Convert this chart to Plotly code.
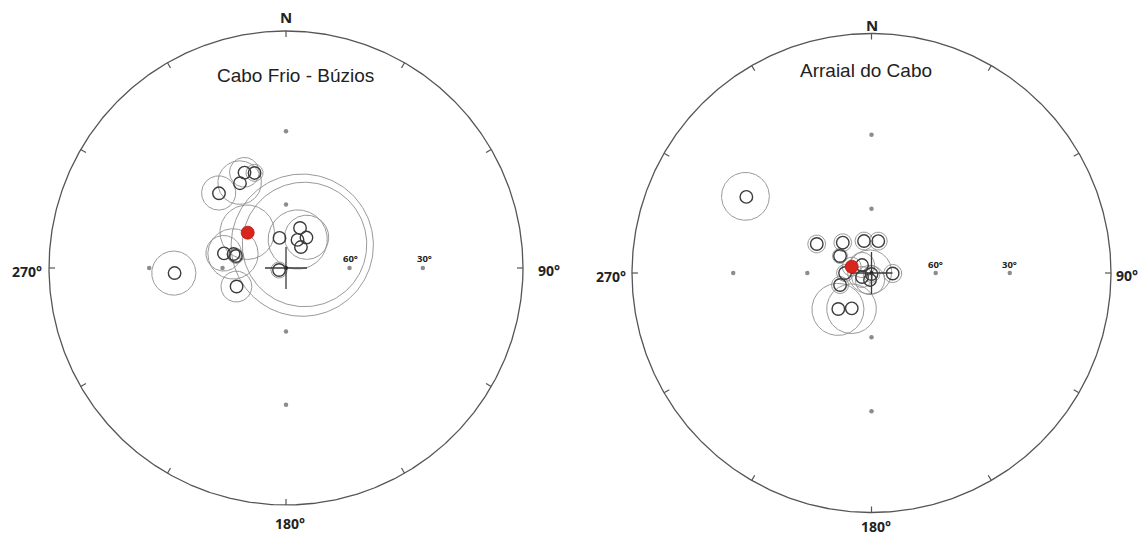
import numpy as np
import plotly.graph_objects as go

W, H = 1140, 536

# ---------------------------------------------------------------------------
# Pole data: azimuth (deg, clockwise from N) and latitude (deg) on the net
# ---------------------------------------------------------------------------
# Cabo Frio - Búzios
cf_site_az = [318.1, 331.5, 336.5, 341.7, 283.3, 284.9, 283.5, 249.5, 267.4,
              347.8, 19.3, 33.9, 22.3, 35.5, 254.1]
cf_site_lat = [44.1, 45.7, 42.6, 44.2, 59.9, 64.2, 65.5, 64.9, 39.6,
               75.2, 69.7, 72.4, 75.4, 77.6, 86.5]
cf_cone_az = [318.1, 331.5, 336.5, 341.7, 283.3, 284.9, 283.5, 249.5, 267.4,
              33.9, 22.3, 35.5, 38.2, 254.1, 312.7]
cf_cone_lat = [44.1, 45.7, 42.6, 44.2, 59.9, 64.2, 65.5, 64.9, 39.6,
               72.4, 75.4, 77.6, 76.5, 86.5, 65.2]
cf_a95 = [7.0, 9.0, 6.0, 3.5, 8.0, 11.5, 3.5, 7.1, 8.7,
          10.4, 14.0, 33.0, 29.0, 3.9, 12.5]
cf_mean_az, cf_mean_lat = [312.7], [65.2]

# Arraial do Cabo
ac_site_az = [301.3, 297.9, 316.6, 346.8, 12.0, 298.4, 270.0, 249.1, 310.1,
              247.2, 192.1, 180.0, 91.4, 222.7, 209.2]
ac_site_lat = [27.1, 61.0, 70.2, 74.4, 74.5, 73.0, 77.4, 74.0, 84.1,
               85.1, 86.6, 89.5, 79.9, 66.9, 70.8]
ac_cone_az = [301.3, 297.9, 316.6, 346.8, 12.0, 298.4, 270.0, 249.1, 310.1,
              247.2, 192.1, 180.0, 91.4, 222.7, 209.2, 300.0, 287.7]
ac_cone_lat = [27.1, 61.0, 70.2, 74.4, 74.5, 73.0, 77.4, 74.0, 84.1,
               85.1, 86.6, 89.5, 79.9, 66.9, 70.8, 89.0, 80.1]
ac_a95 = [8.3, 4.0, 4.1, 4.2, 4.2, 3.5, 4.0, 4.0, 6.0,
          5.0, 7.0, 4.0, 4.3, 11.9, 11.5, 10.5, 4.5]
ac_mean_az, ac_mean_lat = [287.7], [80.1]

grid_az = [0, 90, 180, 270, 0, 90, 180, 270]
grid_lat = [60, 60, 60, 60, 30, 30, 30, 30]
rim_tick_az = list(range(0, 360, 30))


# ---------------------------------------------------------------------------
def proj(az, lat):
    """Stereographic (Wulff) projection, unit primitive circle."""
    a = np.radians(np.asarray(az, float))
    r = np.tan(np.radians(90.0 - np.asarray(lat, float)) / 2.0)
    return r * np.sin(a), r * np.cos(a)


def small_circle(az, lat, alpha, n=180):
    lat1, lon1, d = np.radians(lat), np.radians(az), np.radians(alpha)
    b = np.linspace(0, 2 * np.pi, n)
    lat2 = np.arcsin(np.sin(lat1) * np.cos(d) + np.cos(lat1) * np.sin(d) * np.cos(b))
    lon2 = lon1 + np.arctan2(np.sin(b) * np.sin(d) * np.cos(lat1),
                             np.cos(d) - np.sin(lat1) * np.sin(lat2))
    return proj(np.degrees(lon2), np.degrees(lat2))


def joined(pieces):
    xs, ys = [], []
    for x, y in pieces:
        xs += list(x) + [None]
        ys += list(y) + [None]
    return xs, ys


fig = go.Figure()

# panel layout: (centre x px, centre y px, radius px, x-domain)
panels = [
    dict(cx=286, cy=268, R=237, dom=(0.0, 0.5), xa="x", ya="y",
         site=(cf_site_az, cf_site_lat), cone=(cf_cone_az, cf_cone_lat, cf_a95),
         mean=(cf_mean_az, cf_mean_lat)),
    dict(cx=871.5, cy=273, R=239.5, dom=(0.5, 1.0), xa="x2", ya="y2",
         site=(ac_site_az, ac_site_lat), cone=(ac_cone_az, ac_cone_lat, ac_a95),
         mean=(ac_mean_az, ac_mean_lat)),
]

for i, p in enumerate(panels):
    R = p["R"]
    kw = dict(xaxis=p["xa"], yaxis=p["ya"], showlegend=False, hoverinfo="skip")

    # primitive circle
    t = np.linspace(0, 2 * np.pi, 721)
    fig.add_trace(go.Scatter(x=np.cos(t), y=np.sin(t), mode="lines",
                             line=dict(color="#555555", width=1.3), **kw))
    # rim ticks
    tk = []
    for a in rim_tick_az:
        s, c = np.sin(np.radians(a)), np.cos(np.radians(a))
        tk.append(([s, s * (1 - 6 / R)], [c, c * (1 - 6 / R)]))
    tx, ty = joined(tk)
    fig.add_trace(go.Scatter(x=tx, y=ty, mode="lines",
                             line=dict(color="#555555", width=1.2), **kw))
    # latitude reference dots
    gx, gy = proj(grid_az, grid_lat)
    fig.add_trace(go.Scatter(x=gx, y=gy, mode="markers",
                             marker=dict(size=4.5, color="#8c8c8c"), **kw))

    # confidence circles
    caz, clat, ca95 = p["cone"]
    cx_, cy_ = joined([small_circle(a, l, d) for a, l, d in zip(caz, clat, ca95)])
    fig.add_trace(go.Scatter(x=cx_, y=cy_, mode="lines",
                             line=dict(color="#8d8d8d", width=0.9), **kw))

    # centre cross
    arm = 21 / R
    fig.add_trace(go.Scatter(x=[-arm, arm, None, 0, 0], y=[0, 0, None, -arm, arm],
                             mode="lines", line=dict(color="#3a3a3a", width=1.3), **kw))
    fig.add_trace(go.Scatter(x=[0], y=[0], mode="markers",
                             marker=dict(size=4, color="#222222"), **kw))

    # site poles
    sx, sy = proj(*p["site"])
    fig.add_trace(go.Scatter(x=sx, y=sy, mode="markers",
                             marker=dict(symbol="circle-open", size=12.5, color="#3c3c3c",
                                         line=dict(width=1.4, color="#3c3c3c")), **kw))
    # mean pole
    mx, my = proj(*p["mean"])
    fig.add_trace(go.Scatter(x=mx, y=my, mode="markers",
                             marker=dict(size=13, color="#d9261c",
                                         line=dict(width=0.8, color="#b01810")), **kw))

    # axes: pixel-exact ranges so both nets are true circles
    x0 = W * p["dom"][0]
    x1 = W * p["dom"][1]
    xr = [(x0 - p["cx"]) / R, (x1 - p["cx"]) / R]
    yr = [(p["cy"] - H) / R, p["cy"] / R]
    ax = dict(domain=list(p["dom"]), range=xr, visible=False, fixedrange=True)
    ay = dict(domain=[0, 1], range=yr, visible=False, fixedrange=True)
    sfx = "" if i == 0 else "2"
    fig.update_layout(**{f"xaxis{sfx}": ax, f"yaxis{sfx}": ay})


def label(text, px, py, size, bold=True, family="Open Sans"):
    fig.add_annotation(x=px / W, y=1 - py / H, xref="paper", yref="paper",
                       text=f"<b>{text}</b>" if bold else text, showarrow=False,
                       xanchor="center", yanchor="middle",
                       font=dict(family=family, size=size, color="#222222"))


# compass labels: (centre x, centre y, radius, N offset, 90 offset, 270 offset, 180 offset)
for (cx, cy, R, n_off, e_off, w_off, s_off) in [
        (286, 268, 237, 251, 26, 22, 18),
        (871.5, 273, 239.5, 248, 16, 21, 14)]:
    label("N", cx, cy - n_off, 15)
    label("90°", cx + R + e_off, cy + 2, 14)
    label("270°", cx - R - w_off, cy + 3, 14)
    label("180°", cx + 4, cy + R + s_off, 14)
    label("60°", cx + 64, cy - 9, 9.5)
    label("30°", cx + 138, cy - 9, 9.5)

# panel titles
label("Cabo Frio - Búzios", 295, 76, 19, bold=False, family="Liberation Sans, Arial")
label("Arraial do Cabo", 866, 70, 19, bold=False, family="Liberation Sans, Arial")

fig.update_layout(width=W, height=H, margin=dict(l=0, r=0, t=0, b=0),
                  paper_bgcolor="white", plot_bgcolor="white")

fig.write_html("out.html")
